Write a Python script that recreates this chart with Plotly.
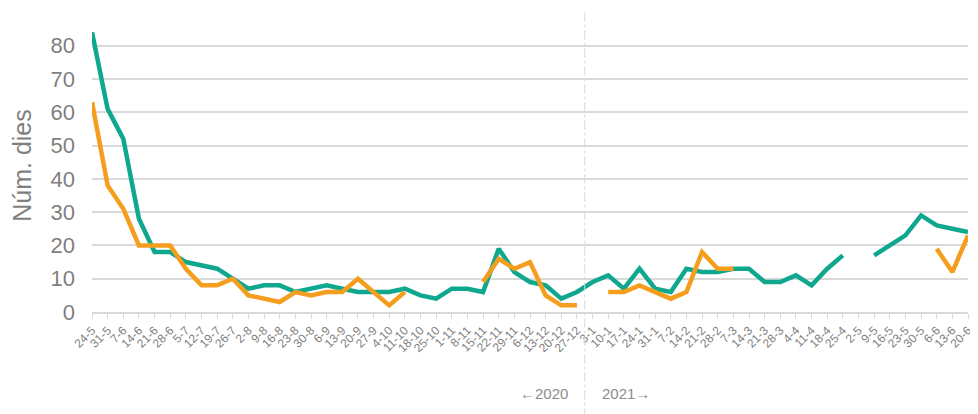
import plotly.graph_objects as go

weeks = ["24-5","31-5","7-6","14-6","21-6","28-6","5-7","12-7","19-7","26-7",
         "2-8","9-8","16-8","23-8","30-8","6-9","13-9","20-9","27-9","4-10",
         "11-10","18-10","25-10","1-11","8-11","15-11","22-11","29-11","6-12","13-12",
         "20-12","27-12","3-1","10-1","17-1","24-1","31-1","7-2","14-2","21-2",
         "28-2","7-3","14-3","21-3","28-3","4-4","11-4","18-4","25-4","2-5",
         "9-5","16-5","23-5","30-5","6-6","13-6","20-6"]

teal_values = [84, 61, 52, 28, 18, 18, 15, 14, 13, 10,
               7, 8, 8, 6, 7, 8, 7, 6, 6, 6,
               7, 5, 4, 7, 7, 6, 19, 12, 9, 8,
               4, 6, 9, 11, 7, 13, 7, 6, 13, 12,
               12, 13, 13, 9, 9, 11, 8, 13, 17, None,
               17, 20, 23, 29, 26, 25, 24]

orange_values = [63, 38, 31, 20, 20, 20, 13, 8, 8, 10,
                 5, 4, 3, 6, 5, 6, 6, 10, 6, 2,
                 6, None, None, None, None, 9, 16, 13, 15, 5,
                 2, 2, None, 6, 6, 8, 6, 4, 6, 18,
                 13, 13, None, None, None, None, None, None, None, None,
                 None, None, None, None, 19, 12, 23]

y_title = "Núm. dies"
left_label = "\u21902020"
right_label = "2021\u2192"

TEAL = "#0fa88f"
ORANGE = "#f59e1e"
GRID = "#d9d9d9"
TXT = "#7f7f7f"
FONT = "Liberation Sans"

fig = go.Figure()
fig.add_trace(go.Scatter(x=weeks, y=teal_values, mode="lines",
                         line=dict(color=TEAL, width=4.5), connectgaps=False,
                         showlegend=False, hoverinfo="x+y"))
fig.add_trace(go.Scatter(x=weeks, y=orange_values, mode="lines",
                         line=dict(color=ORANGE, width=4.5), connectgaps=False,
                         showlegend=False, hoverinfo="x+y"))

# divider between years
fig.add_shape(type="line", xref="x", yref="paper", x0=31.5, x1=31.5,
              y0=-0.36, y1=1.03, line=dict(color=GRID, width=1, dash="dashdot"))
fig.add_annotation(x=31.5, xref="x", y=-0.314, yref="paper", text=left_label,
                   showarrow=False, xanchor="right", xshift=-15,
                   font=dict(family=FONT, size=15, color="#8c8c8c"))
fig.add_annotation(x=31.5, xref="x", y=-0.314, yref="paper", text=right_label,
                   showarrow=False, xanchor="left", xshift=15,
                   font=dict(family=FONT, size=15, color="#8c8c8c"))

# page body has an 8px margin; compensate so the plot area sits where the reference's does
fig.update_layout(
    width=970, height=406,
    margin=dict(l=84, r=10, t=11, b=102),
    paper_bgcolor="white", plot_bgcolor="white",
    font=dict(family=FONT, color=TXT),
    xaxis=dict(type="category", range=[0, 56], tickangle=-45, automargin=False,
               tickfont=dict(size=12, color="#7f7f7f"),
               showgrid=False, showline=True, linecolor=GRID, linewidth=1.5,
               ticks="outside", ticklen=5, tickcolor=GRID, tickwidth=1,
               zeroline=False),
    yaxis=dict(range=[0, 88], dtick=10, tick0=0, showgrid=True, gridcolor=GRID,
               gridwidth=1.5, zeroline=False, showline=False, automargin=False,
               tickfont=dict(size=22, color=TXT), ticklabelstandoff=16,
               title=dict(text=y_title, font=dict(size=25, color=TXT), standoff=12)),
)

fig.write_html("out.html")
